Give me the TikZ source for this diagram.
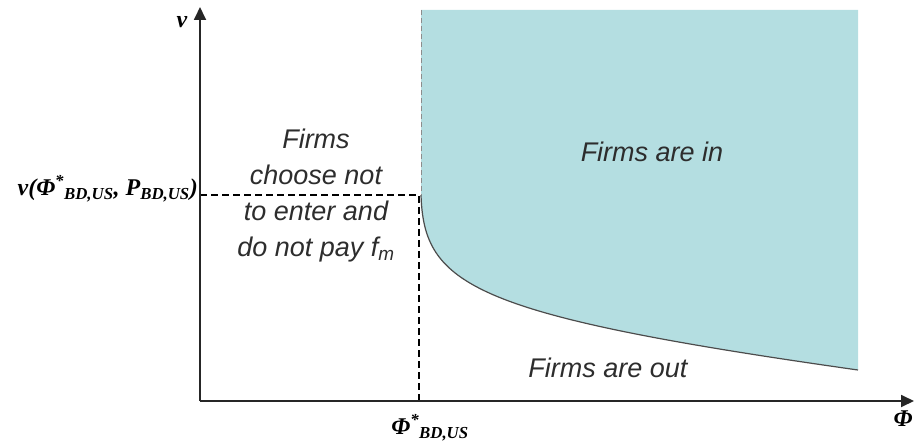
\documentclass[tikz,border=0pt]{standalone}
\usepackage{fontspec}
\setmainfont{Liberation Sans}
\newfontfamily\lblfont{Liberation Serif}
\usetikzlibrary{arrows.meta}
\definecolor{inside}{RGB}{180,222,225}
\definecolor{txtgray}{RGB}{45,45,45}
\tikzset{
  axis/.style = {line width=1.8pt, black!85, -{Triangle[width=12pt,length=13pt]}},
  region/.style = {font=\fontsize{27}{36}\selectfont\itshape, text=txtgray, align=center},
  mlabel/.style = {font=\fontsize{24}{26}\selectfont\lblfont\bfseries\itshape, inner sep=0pt},
  cutoff/.style = {line width=1.8pt, dash pattern=on 7pt off 4pt}
}

\begin{document}
\begin{tikzpicture}[x=1pt, y=-1pt]
\useasboundingbox (0,0) rectangle (920,446);
\coordinate (O) at (200,401);
\coordinate (ytip) at (200,7);
\coordinate (xtip) at (914,401);
\coordinate (top) at (421,10);
\coordinate (corner) at (421,195);
\coordinate (end) at (858,370);
\coordinate (vstar) at (200,195);
\coordinate (phistar) at (419,401);
% region where firms enter
\fill [inside] (top) -- (corner) .. controls (424,285) and (470,315) .. (end) -- (858,10) -- cycle;
\draw [line width=1.2pt, black!70] (corner) .. controls (424,285) and (470,315) .. (end);
\draw [black!45, line width=0.9pt, dash pattern=on 5pt off 3pt] (top) -- (corner);
% threshold lines
\draw [cutoff] (vstar) -- (419,195) -- (phistar);
% axes
\draw [axis] (O) -- (ytip);
\draw [axis] (O) -- (xtip);
\node [mlabel] (vlab) at (182,22) {v};
\node [mlabel] (philab) at (903,419) {Φ};
\node [mlabel, anchor=east] (vval) at (198,189) {v(Φ\textsuperscript{*}\textsubscript{BD,US}, P\textsubscript{BD,US})};
\node [mlabel] (phival) at (430,428) {Φ\textsuperscript{*}\textsubscript{BD,US}};
% region labels
\node [region] (inlab) at (652,152) {Firms are in};
\node [region] (outlab) at (608,368) {Firms are out};
\node [region] (notlab) at (316,196) {Firms\\choose not\\to enter and\\do not pay f\textsubscript{m}};
\end{tikzpicture}
\end{document}
